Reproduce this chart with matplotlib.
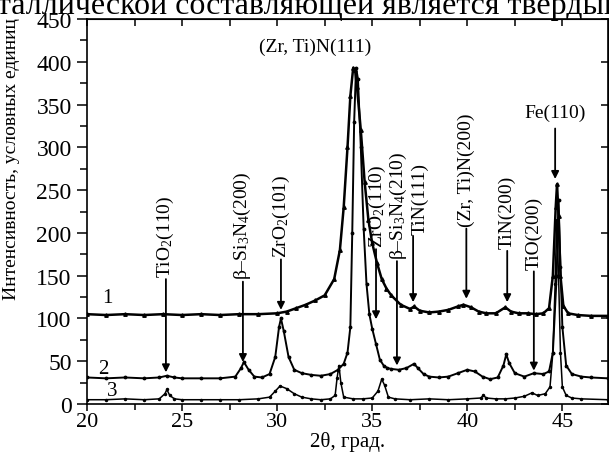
import matplotlib
matplotlib.use("Agg")
import matplotlib.pyplot as plt
from matplotlib.ticker import MultipleLocator

plt.rcParams['font.family'] = ['Liberation Serif', 'DejaVu Serif']
plt.rcParams['mathtext.fontset'] = 'custom'
plt.rcParams['mathtext.rm'] = 'Liberation Serif'
plt.rcParams['mathtext.it'] = 'Liberation Serif:italic'

# ---- data (2theta, intensity) ----
x1 = [20.0, 21.0, 22.0, 23.0, 24.0, 25.0, 26.0, 27.0, 28.0, 29.0, 30.0, 30.5, 31.0, 31.5,
      32.0, 32.5, 33.0, 33.3, 33.5, 33.7, 33.85, 34.0, 34.1, 34.2, 34.4, 34.6, 34.8, 35.0,
      35.25, 35.5, 35.75, 36.0, 36.5, 37.0, 37.2, 37.5, 38.0, 38.5, 39.0, 39.5, 39.8, 40.2,
      40.6, 41.0, 41.5, 42.0, 42.3, 42.7, 43.2, 43.6, 44.0, 44.3, 44.5, 44.65, 44.72, 44.8,
      44.9, 45.05, 45.3, 45.8, 46.5, 47.4]
y1 = [105, 104, 105, 104, 105, 104, 105, 104, 105, 105, 106, 108, 112, 116,
      121, 127, 146, 180, 230, 300, 360, 393, 390, 370, 320, 260, 215, 188,
      165, 146, 135, 127, 116, 111, 114, 109, 107, 108, 110, 114, 116, 113,
      108, 106, 106, 113, 108, 106, 106, 105, 106, 112, 150, 230, 257, 220,
      150, 115, 106, 104, 103, 103]

x2 = [20.0, 21.0, 22.0, 23.0, 23.8, 24.2, 24.6, 25.0, 26.0, 27.0, 27.8, 28.1, 28.25, 28.5,
      28.8, 29.2, 29.6, 29.9, 30.1, 30.2, 30.35, 30.6, 30.9, 31.3, 31.8, 32.3, 32.8, 33.2,
      33.5, 33.7, 33.85, 33.95, 34.05, 34.15, 34.25, 34.4, 34.55, 34.7, 34.85, 35.0, 35.2,
      35.4, 35.6, 35.8, 36.0, 36.4, 36.8, 37.2, 37.4, 37.7, 38.0, 38.5, 39.0, 39.5, 40.0,
      40.4, 40.8, 41.2, 41.6, 41.9, 42.05, 42.2, 42.5, 43.0, 43.5, 44.0, 44.3, 44.5, 44.7,
      44.8, 44.9, 45.0, 45.2, 45.5, 46.0, 46.5, 47.4]
y2 = [31, 30, 31, 30, 31, 33, 31, 30, 30, 30, 32, 42, 49, 40,
      32, 31, 35, 55, 90, 100, 85, 55, 40, 36, 34, 33, 35, 40,
      47, 60, 90, 200, 330, 393, 380, 300, 205, 140, 105, 88, 70,
      52, 45, 42, 41, 40, 42, 47, 42, 35, 32, 31, 32, 36, 40,
      38, 32, 29, 31, 45, 58, 48, 36, 32, 36, 35, 38, 60, 150,
      238, 160, 90, 45, 35, 32, 31, 30]

x3 = [20.0, 21.0, 22.0, 23.0, 23.8, 24.1, 24.2, 24.35, 24.6, 25.0, 26.0, 27.0, 28.0, 29.0,
      29.6, 29.9, 30.15, 30.5, 30.9, 31.3, 31.8, 32.3, 32.8, 33.05, 33.15, 33.25, 33.35,
      33.5, 34.0, 34.5, 35.0, 35.3, 35.5, 35.65, 35.85, 36.2, 37.0, 38.0, 39.0, 40.0, 40.7,
      40.85, 41.0, 41.5, 42.0, 42.5, 43.0, 43.4, 43.7, 44.1, 44.35, 44.5, 44.62, 44.7, 44.8,
      44.9, 45.0, 45.2, 45.5, 46.0, 47.4]
y3 = [5, 5, 6, 5, 6, 12, 17, 10, 6, 5, 5, 5, 5, 6,
      8, 15, 21, 18, 12, 8, 6, 5, 6, 10, 30, 45, 25,
      8, 6, 6, 7, 15, 29, 22, 8, 6, 5, 6, 5, 6, 7,
      10, 7, 6, 6, 7, 9, 13, 10, 12, 20, 60, 140, 215, 150,
      60, 20, 10, 7, 6, 5]

curve_names = ['1', '2', '3']

# annotations: label, arrow x, text x, text-start value, arrow tip value
ann_labels = [r'TiO$_2$(110)', r'β–Si$_3$N$_4$(200)', r'ZrO$_2$(101)', r'ZrO$_2$(110)',
              r'β–Si$_3$N$_4$(210)', 'TiN(111)', '(Zr, Ti)N(200)', 'TiN(200)', 'TiO(200)']
ann_x = [24.15, 28.2, 30.2, 35.2, 36.3, 37.15, 39.95, 42.1, 43.5]
ann_tx = [24.15, 28.2, 30.2, 35.25, 36.4, 37.5, 39.95, 42.1, 43.5]
ann_start = [146, 143, 169, 181, 167, 196, 205, 179, 155]
ann_tip = [37, 49, 110, 99, 45, 119, 123, 119, 39]

fig = plt.figure(figsize=(6.09, 4.56), dpi=100)
ax = fig.add_axes([87 / 609, 1 - 405 / 456, (608 - 87) / 609, (405 - 20) / 456])

ax.plot(x1, y1, color='black', lw=1.8, marker='^', ms=2.5, zorder=3)
ax.plot(x2, y2, color='black', lw=1.4, marker='.', ms=3.5, zorder=3)
ax.plot(x3, y3, color='black', lw=1.1, marker='.', ms=3, zorder=3)

ax.set_xlim(20, 47.4)
ax.set_ylim(0, 450)

ax.xaxis.set_major_locator(MultipleLocator(5))
ax.xaxis.set_minor_locator(MultipleLocator(2.5))
ax.yaxis.set_major_locator(MultipleLocator(50))
ax.yaxis.set_minor_locator(MultipleLocator(25))
ax.tick_params(which='both', direction='out', top=False, right=False, width=1.1)
ax.tick_params(axis='y', which='major', length=7, labelsize=17, pad=4)
ax.tick_params(axis='y', which='minor', length=5)
ax.tick_params(axis='x', which='major', length=5, labelsize=16, pad=1)
ax.tick_params(axis='x', which='minor', length=4)
for s in ax.spines.values():
    s.set_linewidth(1.2)

secx = ax.secondary_xaxis('top')
secx.xaxis.set_major_locator(MultipleLocator(2.5))
secx.tick_params(direction='in', length=5, width=1.1, labeltop=False)
secx.set_xticklabels([])
secy = ax.secondary_yaxis('right')
secy.yaxis.set_major_locator(MultipleLocator(50))
secy.tick_params(direction='in', length=5, width=1.1, labelright=False)
secy.set_yticklabels([])

ax.set_xlabel('2θ, град.', fontsize=15, labelpad=0)
ax.set_ylabel('Интенсивность, условных единиц', fontsize=14)
ax.yaxis.set_label_coords(-0.128, 0.64)

# curve numbers
ax.text(21.05, 125, curve_names[0], fontsize=15, ha='center', va='center')
ax.text(20.85, 42, curve_names[1], fontsize=15, ha='center', va='center')
ax.text(21.3, 16, curve_names[2], fontsize=15, ha='center', va='center')

for lab, xa, xt, ys, yt in zip(ann_labels, ann_x, ann_tx, ann_start, ann_tip):
    ax.annotate('', xy=(xa, yt), xytext=(xa, ys),
                arrowprops=dict(arrowstyle='-|>', color='black', lw=1.3,
                                mutation_scale=11, shrinkA=0, shrinkB=0))
    ax.text(xt, ys + 3, lab, rotation=90, ha='center', va='bottom', fontsize=14)

ax.text(32.0, 418, '(Zr, Ti)N(111)', ha='center', va='center', fontsize=14)
ax.text(44.6, 341, 'Fe(110)', ha='center', va='center', fontsize=14)
ax.annotate('', xy=(44.62, 263), xytext=(44.62, 322),
            arrowprops=dict(arrowstyle='-|>', color='black', lw=1.3,
                            mutation_scale=11, shrinkA=0, shrinkB=0))

fig.text(-0.005, 1 - 14 / 456, 'таллической составляющей является твердый',
         fontsize=23, ha='left', va='baseline')

fig.savefig('out.png', dpi=100)
